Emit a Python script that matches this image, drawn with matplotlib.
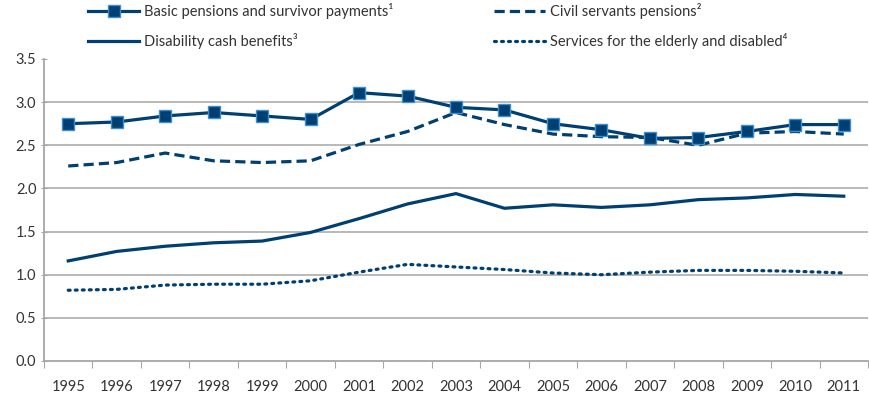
import matplotlib.pyplot as plt
from matplotlib.lines import Line2D

plt.rcParams['font.family'] = ['Lato', 'DejaVu Sans']

years = [str(y) for y in range(1995, 2012)]
basic = [2.75, 2.77, 2.84, 2.88, 2.84, 2.80, 3.11, 3.07, 2.94, 2.91,
         2.75, 2.68, 2.58, 2.59, 2.66, 2.74, 2.74]
civil = [2.26, 2.30, 2.41, 2.32, 2.30, 2.32, 2.51, 2.66, 2.88, 2.74,
         2.63, 2.60, 2.59, 2.50, 2.64, 2.66, 2.63]
disability = [1.16, 1.27, 1.33, 1.37, 1.39, 1.49, 1.65, 1.82, 1.94, 1.77,
              1.81, 1.78, 1.81, 1.87, 1.89, 1.93, 1.91]
services = [0.82, 0.83, 0.88, 0.89, 0.89, 0.93, 1.03, 1.12, 1.09, 1.06,
            1.02, 1.00, 1.03, 1.05, 1.05, 1.04, 1.02]
yticks = [0.0, 0.5, 1.0, 1.5, 2.0, 2.5, 3.0, 3.5]

navy = '#003f72'
edge = '#3d8fd1'
grey = '#a6a6a6'

fig = plt.figure(figsize=(8.69, 3.95), dpi=100)
ax = fig.add_axes([44 / 869, 1 - 361 / 395, 824 / 869, 302 / 395])

x = range(len(years))
ax.plot(x, basic, color=navy, lw=2.3, marker='s', ms=9,
        mfc=navy, mec=edge, mew=1.0, zorder=4)
ax.plot(x, civil, color=navy, lw=2.3, ls=(0, (3.2, 1.6)), zorder=3)
ax.plot(x, disability, color=navy, lw=2.3, zorder=3)
ax.plot(x, services, color=navy, lw=2.3, ls=(0, (0.6, 1.6)),
        dash_capstyle='round', zorder=3)

ax.set_xlim(-0.5, len(years) - 0.5)
ax.set_ylim(0, 3.5)
ax.set_yticks(yticks)
ax.set_yticklabels([f'{v:.1f}' for v in yticks])
for v in yticks[1:-1]:
    ax.axhline(v, color=grey, lw=1.1, zorder=1)

# category ticks sit between years, labels at the centres
ax.set_xticks([i + 0.5 for i in range(-1, len(years))], minor=False)
ax.set_xticklabels([])
ax.set_xticks(list(x), minor=True)
ax.set_xticklabels(years, minor=True)
ax.tick_params(axis='x', which='major', length=5, color=grey, direction='out')
ax.tick_params(axis='x', which='minor', length=0, pad=14, labelsize=10.5,
               labelcolor='#333333')
ax.tick_params(axis='y', length=5, color=grey, direction='inout',
               labelsize=10.5, labelcolor='#333333', pad=3)

for side in ('top', 'right'):
    ax.spines[side].set_visible(False)
for side in ('left', 'bottom'):
    ax.spines[side].set_color(grey)
    ax.spines[side].set_linewidth(1.3)

handles = [
    Line2D([], [], color=navy, lw=2.3, marker='s', ms=9, mfc=navy, mec=edge),
    Line2D([], [], color=navy, lw=2.3),
    Line2D([], [], color=navy, lw=2.3, ls=(0, (3.2, 1.6))),
    Line2D([], [], color=navy, lw=2.3, ls=(0, (0.6, 1.6)), dash_capstyle='round'),
]
labels = [
    'Basic pensions and survivor payments\u00b9',
    'Disability cash benefits\u00b3',
    'Civil servants pensions\u00b2',
    'Services for the elderly and disabled\u2074',
]
fig.legend(handles, labels, ncol=2, loc='upper left',
           bbox_to_anchor=(75 / 869, 1.025), frameon=False, fontsize=10.5,
           handlelength=3.5, handletextpad=0.35, columnspacing=6.9,
           labelspacing=0.95, labelcolor='#333333')

fig.savefig('out.png', dpi=100)
